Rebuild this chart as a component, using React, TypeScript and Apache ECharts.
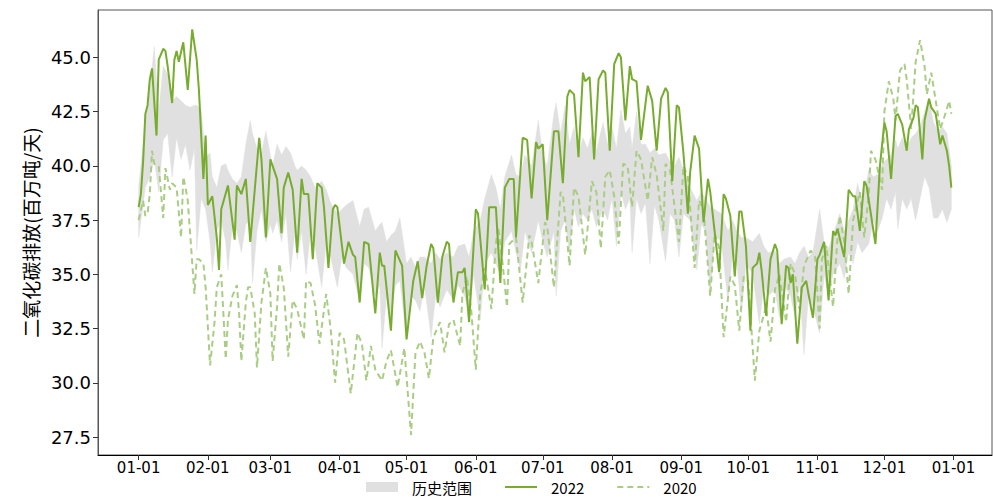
import React, { useEffect, useRef } from "react";
import * as echarts from "echarts";

// x positions are day-of-year (0 = 01-01)
const MONTH_DAYS = [0, 31, 59, 90, 120, 151, 181, 212, 243, 273, 304, 334, 365];
const MONTH_LABELS = ["01-01", "02-01", "03-01", "04-01", "05-01", "06-01", "07-01", "08-01", "09-01", "10-01", "11-01", "12-01", "01-01"];
const Y_TICKS = [27.5, 30, 32.5, 35, 37.5, 40, 42.5, 45];

const D2022 = [0, 1, 2, 3, 4, 5, 6, 8, 9, 11, 12, 13, 15, 16, 17, 18, 20, 22, 24, 26, 27, 29, 30, 31, 33, 35, 36, 37, 40, 43, 44, 46, 48, 50, 54, 55, 57, 59, 62, 64, 65, 67, 69, 71, 73, 74, 76, 78, 80, 82, 83, 85, 87, 88, 89, 92, 94, 96, 97, 99, 101, 103, 106, 108, 109, 110, 113, 115, 118, 120, 123, 125, 127, 129, 131, 132, 134, 136, 138, 139, 141, 143, 145, 146, 148, 151, 152, 155, 157, 160, 162, 164, 166, 168, 169, 172, 174, 176, 178, 179, 181, 183, 186, 188, 190, 192, 193, 195, 197, 199, 200, 202, 204, 206, 208, 209, 211, 213, 215, 216, 218, 220, 221, 223, 225, 228, 230, 232, 234, 236, 237, 239, 241, 242, 244, 246, 247, 249, 251, 253, 255, 256, 260, 262, 263, 265, 267, 269, 270, 272, 274, 275, 277, 278, 279, 281, 283, 285, 286, 288, 290, 291, 292, 293, 295, 297, 299, 300, 302, 304, 305, 307, 309, 311, 312, 313, 316, 318, 320, 321, 323, 325, 326, 330, 332, 334, 335, 337, 339, 340, 342, 344, 345, 347, 348, 349, 351, 352, 354, 355, 357, 359, 360, 362, 363, 364];
const V2022 = [38.1, 38.7, 40.2, 42.4, 42.8, 44.0, 44.5, 41.4, 44.9, 45.4, 45.3, 44.6, 42.9, 44.9, 45.3, 44.8, 45.7, 43.5, 46.3, 44.9, 43.5, 39.4, 41.4, 38.2, 38.6, 36.7, 35.2, 38.0, 39.1, 36.6, 39.1, 38.7, 39.4, 36.5, 41.3, 40.3, 36.7, 40.3, 39.4, 36.9, 39.0, 39.7, 38.9, 36.0, 39.4, 38.7, 38.7, 35.7, 39.2, 39.0, 38.1, 35.3, 38.0, 38.2, 38.1, 35.5, 36.5, 35.9, 35.8, 33.7, 36.5, 36.4, 33.2, 36.0, 35.4, 35.4, 32.4, 36.1, 35.4, 32.0, 34.7, 35.6, 33.9, 35.4, 36.4, 36.2, 33.7, 35.8, 36.5, 36.4, 33.7, 35.1, 35.1, 35.3, 32.8, 38.0, 37.8, 34.3, 38.1, 38.1, 34.6, 39.0, 39.4, 39.4, 36.7, 41.3, 41.2, 38.5, 41.1, 40.8, 41.0, 37.5, 41.6, 41.6, 39.2, 43.2, 43.5, 43.3, 40.4, 44.3, 43.9, 44.1, 40.3, 44.0, 44.4, 44.3, 40.7, 44.7, 45.2, 45.0, 42.1, 44.6, 44.0, 43.9, 41.2, 43.7, 43.0, 40.7, 43.1, 43.6, 43.4, 39.3, 42.8, 42.7, 40.6, 37.8, 39.7, 41.4, 40.8, 37.4, 39.4, 38.8, 35.1, 38.7, 38.5, 37.7, 34.9, 37.9, 37.9, 36.3, 32.4, 35.3, 35.5, 36.0, 35.2, 33.1, 35.7, 36.4, 36.1, 32.7, 35.4, 35.3, 34.6, 35.0, 31.8, 34.4, 34.7, 34.1, 33.0, 35.7, 35.9, 36.5, 33.8, 37.0, 36.8, 37.1, 35.8, 38.9, 38.6, 38.6, 37.0, 39.3, 39.1, 36.4, 40.0, 42.0, 41.6, 39.4, 42.3, 42.4, 41.9, 40.7, 41.7, 42.2, 42.8, 42.7, 40.3, 42.1, 43.1, 42.7, 42.4, 41.0, 41.4, 40.7, 40.0, 39.0];

const D2020 = [0, 2, 3, 4, 5, 6, 7, 9, 11, 12, 14, 15, 17, 19, 20, 21, 22, 25, 26, 27, 29, 30, 32, 34, 35, 37, 38, 39, 40, 42, 44, 45, 46, 48, 49, 50, 52, 53, 55, 57, 59, 60, 62, 63, 65, 67, 69, 71, 74, 75, 77, 79, 81, 84, 86, 88, 90, 92, 95, 98, 100, 102, 104, 106, 109, 111, 113, 116, 119, 122, 124, 126, 128, 130, 132, 135, 137, 139, 141, 144, 145, 147, 149, 151, 153, 155, 158, 160, 161, 163, 165, 166, 169, 172, 175, 176, 179, 182, 183, 186, 189, 190, 193, 195, 197, 200, 203, 205, 207, 209, 211, 213, 215, 217, 219, 221, 223, 225, 228, 230, 232, 235, 236, 238, 242, 244, 246, 249, 251, 253, 256, 258, 260, 262, 265, 267, 269, 271, 273, 276, 278, 281, 283, 285, 287, 290, 292, 294, 296, 298, 301, 303, 305, 306, 308, 311, 313, 314, 316, 318, 320, 323, 325, 327, 328, 330, 333, 334, 336, 338, 339, 341, 343, 344, 346, 348, 350, 352, 353, 355, 357, 359, 361, 363, 364];
const V2020 = [37.5, 38.4, 37.7, 37.8, 38.7, 40.7, 40.1, 40.0, 37.6, 39.9, 38.9, 39.2, 39.0, 36.7, 39.5, 39.0, 38.4, 34.1, 35.7, 35.7, 35.5, 34.4, 30.8, 32.8, 34.4, 35.0, 33.1, 31.1, 32.9, 34.0, 34.5, 33.2, 31.0, 33.7, 34.4, 34.4, 33.2, 30.7, 33.7, 35.3, 34.1, 31.0, 33.5, 35.5, 34.4, 31.2, 33.8, 33.4, 32.0, 34.7, 34.6, 33.6, 31.8, 34.1, 32.5, 30.0, 32.3, 32.0, 29.5, 32.3, 31.8, 30.1, 31.7, 30.6, 30.1, 31.0, 31.5, 29.8, 31.6, 27.6, 31.4, 31.9, 31.4, 30.2, 32.1, 32.8, 31.4, 32.7, 32.9, 31.7, 34.1, 34.9, 33.3, 30.6, 34.1, 35.3, 33.4, 36.4, 37.2, 35.5, 33.5, 36.4, 36.7, 33.7, 36.8, 36.5, 34.6, 37.4, 37.2, 34.4, 38.8, 38.7, 35.4, 39.0, 38.6, 35.9, 39.3, 38.8, 36.2, 39.5, 39.8, 38.6, 36.4, 40.1, 40.0, 38.1, 40.7, 40.3, 38.4, 40.4, 39.6, 37.0, 40.1, 39.8, 36.5, 40.0, 39.5, 35.3, 38.4, 38.0, 34.0, 36.9, 36.2, 32.1, 34.9, 34.5, 32.4, 34.9, 34.7, 30.1, 32.4, 33.5, 31.9, 34.3, 35.0, 32.8, 35.5, 35.0, 33.4, 35.4, 36.1, 35.8, 32.5, 35.7, 36.3, 33.5, 36.7, 37.7, 36.5, 34.1, 37.5, 38.8, 36.7, 38.7, 40.7, 40.3, 38.9, 42.5, 43.9, 43.1, 42.1, 44.4, 44.7, 44.0, 41.7, 44.8, 45.8, 44.6, 43.3, 44.3, 43.0, 41.7, 42.3, 43.0, 42.4];

const BAND_DAYS = [
  0, 3, 5, 7, 9, 11, 13, 15, 17, 19, 21, 23, 25, 26, 28, 30,
  32, 33, 35, 37, 39, 40, 42, 44, 46, 48, 50, 51, 53, 55, 57,
  59, 60, 62, 64, 66, 68, 70, 71, 73, 75, 77, 79, 82, 84, 86, 89,
  91, 93, 96, 99, 101, 103, 106, 108, 109, 111, 113, 115, 117,
  120, 122, 124, 126, 128, 131, 133, 135, 138, 141, 143, 146, 148, 150,
  153, 155, 158, 160, 162, 164, 167, 169, 171, 173, 176, 179,
  181, 183, 186, 187, 189, 191, 193, 195, 197, 199, 201, 203, 205, 208, 210,
  212, 214, 216, 218, 220, 221, 223, 225, 227, 229, 231, 233, 236, 238, 240,
  242, 244, 247, 250, 252, 254, 256, 258, 261, 264, 266, 268, 270,
  272, 275, 278, 280, 282, 285, 287, 289, 292, 294, 296, 298, 300, 302,
  305, 307, 309, 311, 314, 316, 318, 320, 322, 324, 327, 329, 331,
  333, 335, 337, 339, 340, 342, 344, 346, 348, 350, 352, 354, 356, 358, 360, 362, 364,
];
const BAND_LOW = [
  36.7, 39.0, 39.5, 40.3, 38.8, 41.2, 41.5, 39.5, 41.3, 40.3, 41.0, 39.8, 40.8, 36.1, 38.5, 38.0,
  36.5, 35.1, 37.0, 37.5, 36.5, 35.2, 37.3, 37.0, 36.0, 37.3, 37.5, 34.6, 37.0, 38.0, 36.5,
  37.3, 36.9, 37.5, 36.5, 37.8, 35.1, 37.0, 35.7, 37.0, 35.0, 37.0, 36.3, 34.4, 36.5, 35.8, 34.4,
  35.8, 35.3, 35.0, 33.8, 35.5, 35.3, 34.0, 34.5, 31.6, 34.0, 33.0, 34.5, 34.7,
  32.0, 34.0, 33.8, 33.3, 34.5, 32.1, 34.0, 33.5, 34.3, 33.8, 34.5, 34.0, 33.2, 35.0,
  32.9, 35.5, 36.0, 35.5, 35.0, 36.5, 37.0, 36.0, 35.2, 37.0, 36.0, 37.5,
  36.5, 35.8, 37.0, 34.0, 37.0, 37.5, 36.0, 38.0, 37.2, 37.8, 37.5, 38.0, 37.2, 38.0, 37.5,
  38.5, 36.3, 38.8, 38.0, 38.5, 36.0, 38.5, 37.8, 38.3, 35.5, 38.2, 37.5, 35.6, 37.8, 37.5,
  35.8, 37.8, 37.5, 35.2, 37.3, 37.0, 34.0, 36.8, 36.5, 33.7, 36.0, 35.5, 33.2,
  35.5, 35.0, 32.7, 34.5, 34.0, 34.3, 33.0, 34.5, 34.0, 33.0, 34.5, 31.3, 34.0, 33.5,
  32.3, 35.0, 34.0, 35.0, 35.5, 34.8, 36.0, 35.5, 36.5, 36.0, 36.4, 37.5, 37.0,
  37.6, 38.5, 38.0, 38.8, 37.1, 38.5, 38.0, 38.5, 37.5, 38.5, 39.5, 39.0, 37.6, 37.6, 38.0, 37.4, 38.0,
];
const BAND_HIGH = [
  39.0, 42.0, 43.5, 45.5, 42.5, 44.6, 44.2, 43.0, 43.2, 43.0, 42.8, 42.7, 42.8, 42.8, 42.6, 40.4,
  40.6, 39.5, 39.0, 40.0, 40.1, 39.8, 39.4, 39.2, 39.5, 41.0, 42.1, 41.5, 40.8, 40.6, 41.6,
  40.5, 40.0, 41.0, 40.5, 40.9, 40.6, 40.0, 39.8, 40.0, 39.8, 39.5, 39.0, 39.3, 38.9, 38.3, 37.8,
  38.0, 38.2, 38.4, 37.2, 38.0, 38.1, 37.0, 37.3, 37.4, 36.5, 36.8, 37.0, 37.6,
  35.5, 35.8, 35.3, 35.8, 35.8, 35.5, 36.0, 35.7, 36.0, 35.8, 36.3, 36.4, 35.8, 37.0,
  37.5, 38.5, 39.6, 39.0, 38.0, 39.5, 40.5, 39.6, 39.5, 40.5, 40.0, 42.1,
  40.5, 40.0, 42.4, 42.9, 41.5, 42.8, 41.0, 41.8, 40.5, 41.3, 40.8, 41.5, 40.7, 42.0, 41.0,
  41.8, 40.8, 42.6, 41.5, 41.8, 40.8, 42.5, 41.0, 41.0, 40.6, 40.8, 40.5, 40.6, 40.2, 40.0,
  40.4, 39.8, 39.0, 38.4, 38.8, 38.5, 38.1, 38.0, 37.8, 37.0, 37.5, 37.0, 36.7,
  36.7, 36.5, 36.9, 36.3, 36.0, 36.1, 35.5, 35.7, 35.8, 35.5, 36.0, 36.3, 35.8, 36.0,
  38.0, 36.5, 36.2, 36.8, 37.8, 37.0, 37.5, 38.0, 39.2, 38.3, 39.8, 39.5, 39.6,
  40.1, 40.3, 40.5, 41.2, 40.8, 41.3, 40.8, 41.3, 41.5, 41.8, 42.5, 43.1, 42.0, 41.6, 41.8, 41.5, 40.0,
];

const GREEN = "#77ac2f";
const LIGHT_GREEN = "#a9cd84";
const GRAY = "#e0e0e0";
const NUM_FONT = "DejaVu Sans, Noto Sans CJK SC, sans-serif";
const CJK_FONT = "Noto Sans CJK SC, DejaVu Sans, sans-serif";

export default function App() {
  const ref = useRef<HTMLDivElement>(null);
  useEffect(() => {
    if (!ref.current) return;
    const chart = echarts.init(ref.current, undefined, { renderer: "svg" });
    const option = {
      animation: false,
      grid: { left: 98, right: 1, top: 10, bottom: 43, show: true, borderColor: "#555", borderWidth: 1, backgroundColor: "transparent" },
      legend: {
        left: 366,
        top: 479.5,
        padding: 0,
        itemWidth: 32,
        itemHeight: 10,
        itemGap: 32,
        textStyle: { fontSize: 15, lineHeight: 15, color: "#000", fontFamily: CJK_FONT, padding: [0, 0, 0, 9] },
        data: [
          { name: "历史范围", icon: "rect" },
          { name: "2022", itemStyle: { opacity: 0 } },
          { name: "2020", itemStyle: { opacity: 0 } },
        ],
      },
      xAxis: {
        type: "value",
        min: -18.2,
        max: 382.2,
        splitLine: { show: false },
        axisLine: { show: true, onZero: false, lineStyle: { color: "#000", width: 1 } },
        axisTick: { show: true, customValues: MONTH_DAYS, length: 5, lineStyle: { color: "#333" } },
        axisLabel: {
          customValues: MONTH_DAYS,
          formatter: (v: number) => MONTH_LABELS[MONTH_DAYS.indexOf(v)] ?? "",
          fontSize: 15,
          color: "#000",
          fontFamily: NUM_FONT,
          margin: 5,
        },
      },
      yAxis: {
        type: "value",
        min: 26.67,
        max: 47.19,
        name: "二氧化碳排放(百万吨/天)",
        nameLocation: "middle",
        nameGap: 53,
        nameTextStyle: { fontSize: 19, color: "#000", fontFamily: CJK_FONT },
        splitLine: { show: false },
        axisLine: { show: true, onZero: false, lineStyle: { color: "#555", width: 1 } },
        axisTick: { show: true, customValues: Y_TICKS, length: 5, lineStyle: { color: "#333" } },
        axisLabel: {
          customValues: Y_TICKS,
          formatter: (v: number) => v.toFixed(1),
          fontSize: 18,
          color: "#000",
          fontFamily: NUM_FONT,
          margin: 7,
        },
      },
      series: [
        {
          name: "历史范围",
          type: "custom",
          coordinateSystem: "cartesian2d",
          silent: true,
          clip: true,
          itemStyle: { color: GRAY },
          encode: { x: 0, y: 1 },
          data: [[BAND_DAYS[0], BAND_LOW[0]]],
          renderItem: (_params: any, api: any) => {
            const upper = BAND_DAYS.map((d, i) => api.coord([d, BAND_HIGH[i]]));
            const lower = BAND_DAYS.map((d, i) => api.coord([d, BAND_LOW[i]])).reverse();
            return {
              type: "polygon",
              shape: { points: upper.concat(lower) },
              style: { fill: GRAY, stroke: GRAY, lineWidth: 0.5 },
            };
          },
        },
        {
          name: "2020",
          type: "line",
          symbol: "none",
          itemStyle: { color: LIGHT_GREEN },
          lineStyle: { color: LIGHT_GREEN, width: 2, type: [6, 4] },
          data: D2020.map((d, i) => [d, V2020[i]]),
        },
        {
          name: "2022",
          type: "line",
          symbol: "none",
          itemStyle: { color: GREEN },
          lineStyle: { color: GREEN, width: 2 },
          data: D2022.map((d, i) => [d, V2022[i]]),
        },
      ],
    };
    chart.setOption(option as any);
    return () => chart.dispose();
  }, []);
  return <div ref={ref} style={{ width: 993, height: 498, position: "absolute", left: 0, top: 0 }} />;
}
